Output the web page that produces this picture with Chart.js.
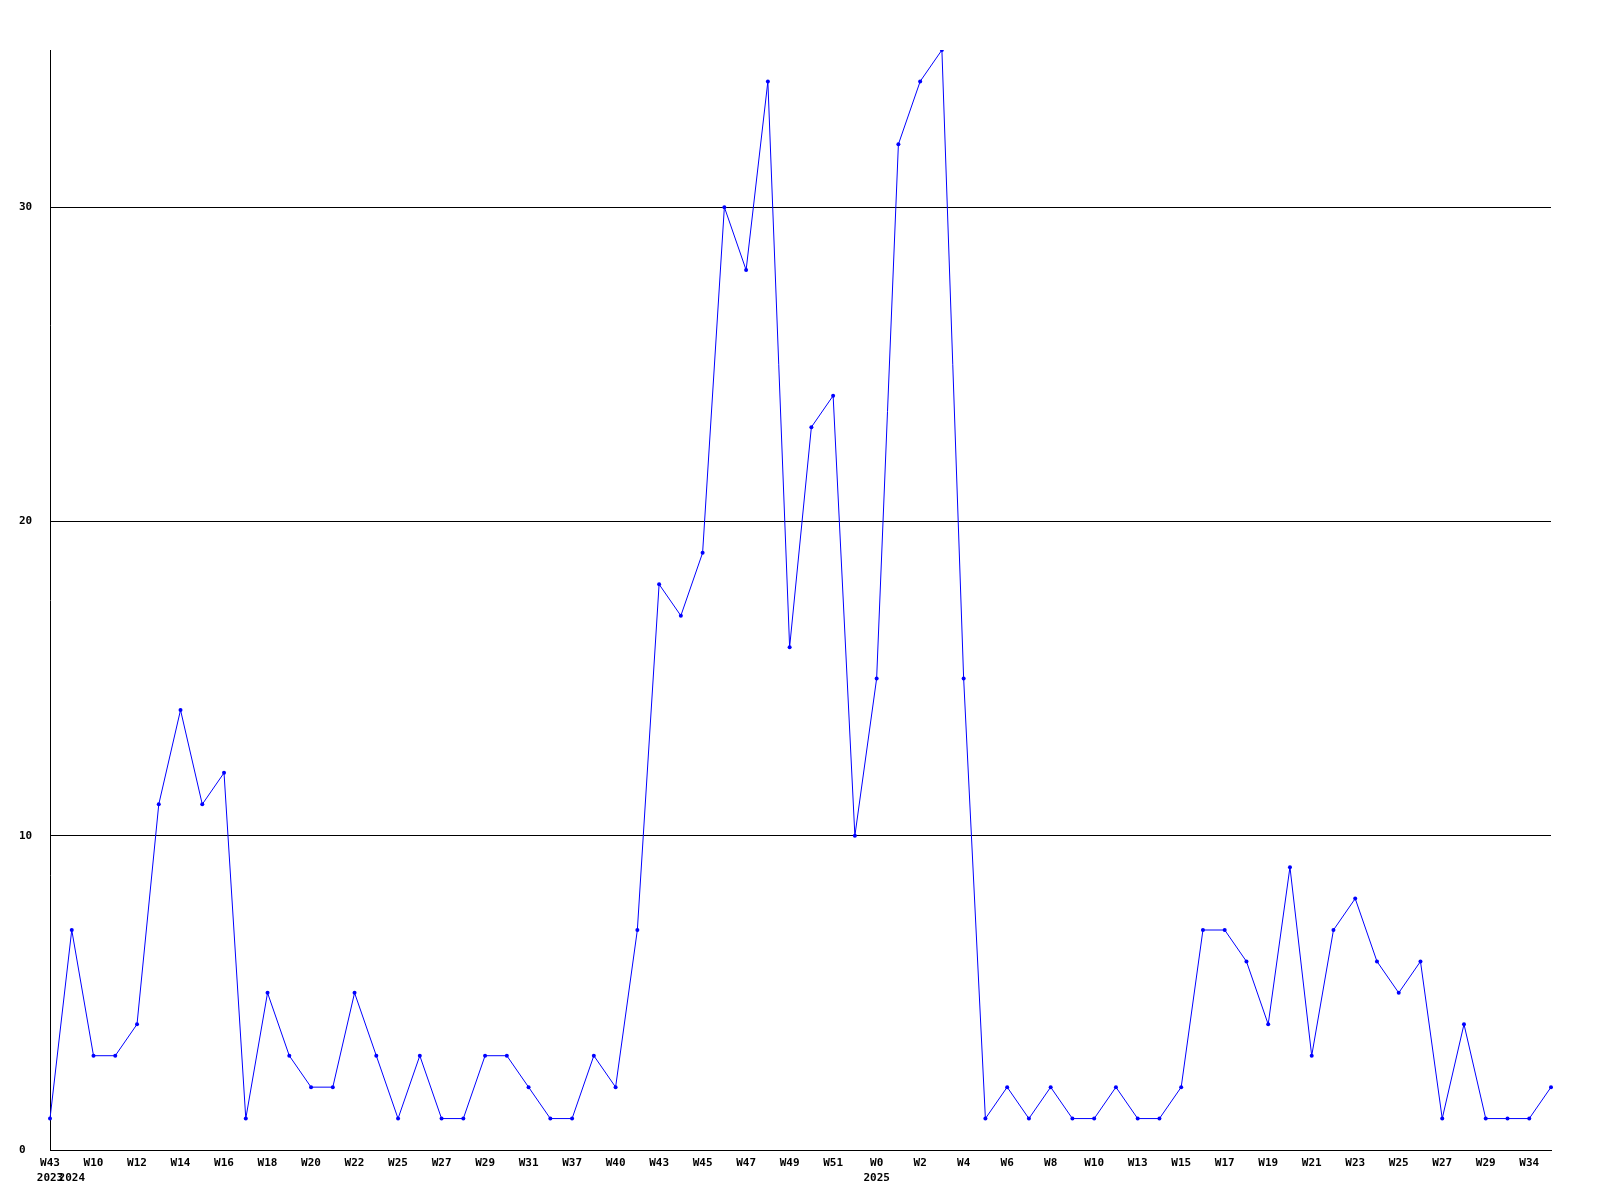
<!DOCTYPE html>
<html>
<head>
<meta charset="utf-8">
<script src="https://cdn.jsdelivr.net/npm/chart.js@4"></script>
<style>
  html, body { margin: 0; padding: 0; background: #fff; }
  #wrap { width: 1600px; height: 1200px; }
</style>
</head>
<body>
<div id="wrap"><canvas id="myChart" width="1600" height="1200"></canvas></div>
<script>
// weekly counts, first point is 2023 W43, then 2024 W9 onwards
const weeks = ["W43","W9","W10","W11","W12","W13","W14","W15","W16","W17",
  "W18","W19","W20","W21","W22","W24","W25","W26","W27","W28",
  "W29","W30","W31","W36","W37","W39","W40","W42","W43","W44",
  "W45","W46","W47","W48","W49","W50","W51","W52","W0","W1",
  "W2","W3","W4","W5","W6","W7","W8","W9","W10","W12",
  "W13","W14","W15","W16","W17","W18","W19","W20","W21","W22",
  "W23","W24","W25","W26","W27","W28","W29","W31","W34","W35"];
const counts = [1,7,3,3,4,11,14,11,12,1,
  5,3,2,2,5,3,1,3,1,1,
  3,3,2,1,1,3,2,7,18,17,
  19,30,28,34,16,23,24,10,15,32,
  34,35,15,1,2,1,2,1,1,2,
  1,1,2,7,7,6,4,9,3,7,
  8,6,5,6,1,4,1,1,1,2];
const yearIdx = [0, 1, 38];
const yearText = ["2023", "2024", "2025"];
const yTicks = [0, 10, 20, 30];

const tickFont = { family: "'DejaVu Sans Mono', monospace", size: 11, weight: "bold", lineHeight: 15 / 11 };

var ctx = document.getElementById("myChart").getContext("2d");
var chart = new Chart(ctx, {
  type: "line",
  data: {
    labels: weeks,
    datasets: [{
      data: counts,
      borderColor: "#0000ff",
      backgroundColor: "#0000ff",
      borderWidth: 1,
      pointRadius: 2,
      pointStyle: "circle",
      pointBorderWidth: 0,
      tension: 0,
      fill: false
    }]
  },
  options: {
    responsive: false,
    animation: false,
    layout: { padding: { top: 50, left: 19, right: 49, bottom: 0 } },
    plugins: { legend: { display: false }, tooltip: { enabled: false } },
    scales: {
      x: {
        offset: false,
        grid: { display: false, drawTicks: false },
        border: { display: true, color: "#000", width: 1 },
        ticks: {
          autoSkip: false,
          maxRotation: 0,
          minRotation: 0,
          padding: 6,
          color: "#000",
          font: tickFont,
          callback: function (v, i) {
            const w = i % 2 === 0 ? weeks[i] : "";
            const k = yearIdx.indexOf(i);
            return k >= 0 ? [w, yearText[k]] : w;
          }
        },
        afterFit: function (s) { s.height = 50; }
      },
      y: {
        min: 0,
        max: 35,
        grid: { color: "#000", lineWidth: 1, drawTicks: false },
        border: { display: true, color: "#000", width: 1 },
        ticks: {
          color: "#000",
          font: tickFont,
          crossAlign: "far",
          padding: 0
        },
        afterBuildTicks: function (s) {
          s.ticks = yTicks.map(v => ({ value: v }));
        },
        afterFit: function (s) { s.width = 31; }
      }
    }
  }
});
</script>
</body>
</html>
